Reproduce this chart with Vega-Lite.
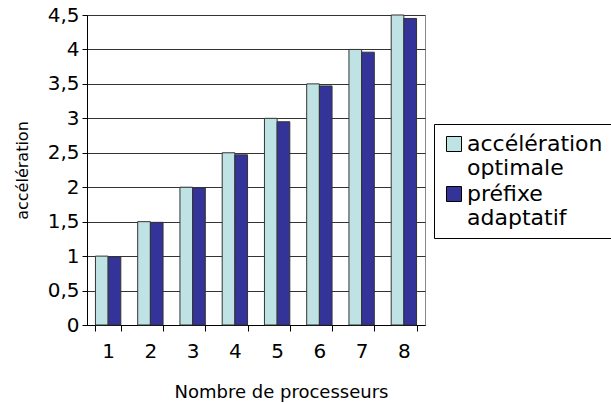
{
  "$schema": "https://vega.github.io/schema/vega-lite/v6.json",
  "width": 338,
  "height": 310,
  "autosize": {"type": "none"},
  "padding": {"left": 87, "top": 15, "right": 186, "bottom": 78},
  "config": {
    "font": "DejaVu Sans",
    "view": {"stroke": "#888", "strokeWidth": 1},
    "style": {"guide-label": {"dy": 7, "lineHeight": 24}},
    "axis": {
      "labelColor": "#000",
      "titleColor": "#000",
      "titleFontWeight": "normal",
      "domainColor": "#000",
      "tickColor": "#000",
      "labelFontSize": 20
    }
  },
  "data": {
    "values": [
      {"p": "1", "serie": "accélération optimale", "v": 1.0},
      {"p": "1", "serie": "préfixe adaptatif", "v": 0.99},
      {"p": "2", "serie": "accélération optimale", "v": 1.5},
      {"p": "2", "serie": "préfixe adaptatif", "v": 1.49},
      {"p": "3", "serie": "accélération optimale", "v": 2.0},
      {"p": "3", "serie": "préfixe adaptatif", "v": 1.99},
      {"p": "4", "serie": "accélération optimale", "v": 2.5},
      {"p": "4", "serie": "préfixe adaptatif", "v": 2.47},
      {"p": "5", "serie": "accélération optimale", "v": 3.0},
      {"p": "5", "serie": "préfixe adaptatif", "v": 2.95},
      {"p": "6", "serie": "accélération optimale", "v": 3.5},
      {"p": "6", "serie": "préfixe adaptatif", "v": 3.47},
      {"p": "7", "serie": "accélération optimale", "v": 4.0},
      {"p": "7", "serie": "préfixe adaptatif", "v": 3.96},
      {"p": "8", "serie": "accélération optimale", "v": 4.5},
      {"p": "8", "serie": "préfixe adaptatif", "v": 4.45}
    ]
  },
  "mark": {"type": "bar", "stroke": "#333", "strokeWidth": 1},
  "encoding": {
    "x": {
      "field": "p",
      "type": "ordinal",
      "scale": {"paddingInner": 0.4, "paddingOuter": 0.2},
      "axis": {
        "title": "Nombre de processeurs",
        "titleFontSize": 18,
        "titlePadding": 22,
        "titleX": 194,
        "labelAngle": 0,
        "labelPadding": 3,
        "tickBand": "extent",
        "tickSize": 6
      }
    },
    "xOffset": {
      "field": "serie",
      "type": "nominal",
      "sort": ["accélération optimale", "préfixe adaptatif"],
      "scale": {"paddingInner": 0}
    },
    "y": {
      "field": "v",
      "type": "quantitative",
      "scale": {"domain": [0, 4.5], "nice": false},
      "axis": {
        "title": "accélération",
        "titleFontSize": 16,
        "titlePadding": 17,
        "values": [0, 0.5, 1, 1.5, 2, 2.5, 3, 3.5, 4, 4.5],
        "labelExpr": "replace(format(datum.value, '.1~f'), '.', ',')",
        "labelPadding": 3,
        "labelOffset": -7,
        "tickSize": 5,
        "grid": true,
        "gridColor": "#333",
        "gridOpacity": 1
      }
    },
    "color": {
      "field": "serie",
      "type": "nominal",
      "sort": ["accélération optimale", "préfixe adaptatif"],
      "scale": {"range": ["#bfe2e5", "#333399"]},
      "legend": {
        "title": null,
        "orient": "none",
        "legendX": 347,
        "legendY": 109,
        "padding": 9,
        "strokeColor": "#000",
        "fillColor": "#fff",
        "labelExpr": "split(datum.label, ' ')",
        "labelFontSize": 22,
        "labelColor": "#000",
        "labelBaseline": "alphabetic",
        "labelLimit": 300,
        "labelOffset": 2,
        "symbolType": "square",
        "symbolSize": 225,
        "symbolStrokeColor": "#000",
        "symbolStrokeWidth": 1,
        "symbolOpacity": 1,
        "rowPadding": 4
      }
    }
  }
}
